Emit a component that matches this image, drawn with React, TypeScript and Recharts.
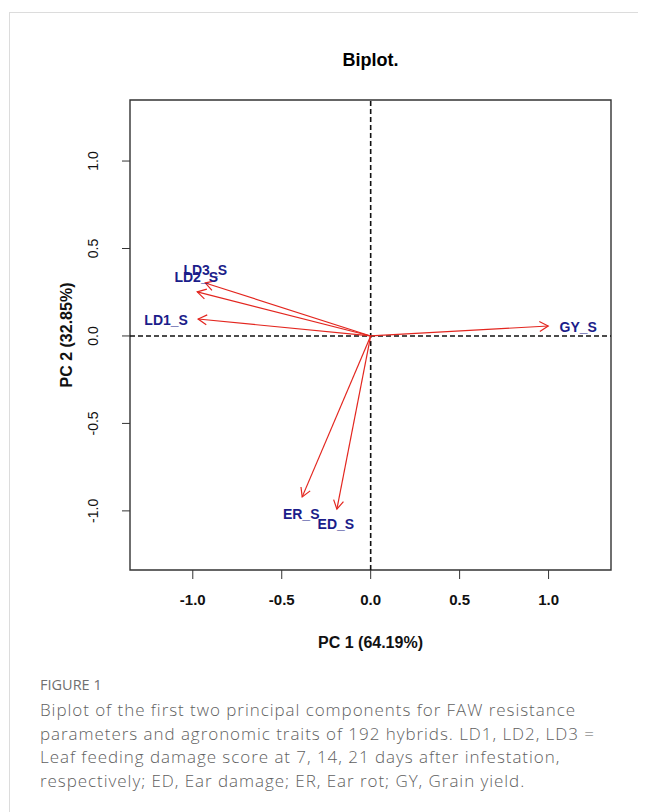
import React from 'react';
import { ScatterChart, Scatter, XAxis, YAxis, ReferenceLine, ReferenceArea } from 'recharts';

// ---- data ----
const traits = ['LD3_S', 'LD2_S', 'LD1_S', 'ER_S', 'ED_S', 'GY_S'];
const pc1Loadings = [-0.93, -0.975, -0.97, -0.385, -0.19, 0.998];
const pc2Loadings = [0.303, 0.252, 0.097, -0.92, -0.99, 0.057];
const xTicks = [-1.0, -0.5, 0.0, 0.5, 1.0];
const yTicks = [-1.0, -0.5, 0.0, 0.5, 1.0];
const xDomain: [number, number] = [-1.353, 1.351];
const yDomain: [number, number] = [-1.338, 1.349];
const titleText = 'Biplot.';
const xLabel = 'PC 1 (64.19%)';
const yLabel = 'PC 2 (32.85%)';
const figureLabel = 'FIGURE 1';
const captionLines = [
  'Biplot of the first two principal components for FAW resistance',
  'parameters and agronomic traits of 192 hybrids. LD1, LD2, LD3 =',
  'Leaf feeding damage score at 7, 14, 21 days after infestation,',
  'respectively; ED, Ear damage; ER, Ear rot; GY, Grain yield.',
];

const points = traits.map((name, i) => ({ name, x: pc1Loadings[i], y: pc2Loadings[i] }));

// ---- styles ----
const ARROW_COLOR = '#e3261f';
const LABEL_COLOR = '#1b1d8a';
const labelOffsets: Record<string, [number, number]> = {
  LD3_S: [0, -13],
  LD2_S: [-1, -15],
  LD1_S: [-32, 1],
  ER_S: [-1, 17],
  ED_S: [-1, 15],
  GY_S: [30, 1],
};

const ArrowShape = (props: any) => {
  const { x1, y1, x2, y2 } = props;
  if ([x1, y1, x2, y2].some((v) => typeof v !== 'number' || isNaN(v))) return null;
  const ang = Math.atan2(y2 - y1, x2 - x1);
  const len = 10;
  const a = Math.PI / 6;
  const hx1 = x2 - len * Math.cos(ang - a);
  const hy1 = y2 - len * Math.sin(ang - a);
  const hx2 = x2 - len * Math.cos(ang + a);
  const hy2 = y2 - len * Math.sin(ang + a);
  return (
    <g>
      <line x1={x1} y1={y1} x2={x2} y2={y2} stroke={ARROW_COLOR} strokeWidth={1.2} />
      <polyline
        points={`${hx1},${hy1} ${x2},${y2} ${hx2},${hy2}`}
        fill="none"
        stroke={ARROW_COLOR}
        strokeWidth={1.2}
      />
    </g>
  );
};

const LabelShape = (props: any) => {
  const { cx, cy, payload } = props;
  const off = labelOffsets[payload.name] || [0, 0];
  return (
    <text
      x={cx + off[0]}
      y={cy + off[1]}
      textAnchor="middle"
      dominantBaseline="central"
      fill={LABEL_COLOR}
      fontFamily="'Liberation Sans', Arial, sans-serif"
      fontWeight="bold"
      fontSize={14}
    >
      {payload.name}
    </text>
  );
};

const YTick = (props: any) => {
  const { x, y, payload } = props;
  const bx = x - 22;
  return (
    <text
      x={bx}
      y={y}
      transform={`rotate(-90, ${bx}, ${y})`}
      textAnchor="middle"
      fill="#111"
      fontFamily="'Liberation Sans', Arial, sans-serif"
      fontSize={14}
    >
      {Number(payload.value).toFixed(1)}
    </text>
  );
};

const XTick = (props: any) => {
  const { x, y, payload } = props;
  return (
    <text
      x={x}
      y={y + 24}
      textAnchor="middle"
      fill="#111"
      fontFamily="'Liberation Sans', Arial, sans-serif"
      fontWeight="bold"
      fontSize={15}
    >
      {Number(payload.value).toFixed(1)}
    </text>
  );
};

export default function App() {
  return (
    <div style={{ position: 'relative', width: 646, height: 812 }}>
      <div
        style={{
          position: 'absolute',
          left: 9 - 8,
          top: 12 - 8,
          width: 637,
          height: 800,
          borderTop: '1px solid #dcdcdc',
          borderLeft: '1px solid #dcdcdc',
          boxSizing: 'border-box',
        }}
      />
      <div style={{ position: 'absolute', left: -8, top: -8 }}>
        <ScatterChart
          width={646}
          height={812}
          margin={{ top: 100, right: 35, bottom: 212, left: 70 }}
        >
          <XAxis
            type="number"
            dataKey="x"
            domain={xDomain}
            ticks={xTicks}
            allowDataOverflow
            axisLine={false}
            tickLine={{ stroke: '#333' }}
            tickSize={9}
            height={30}
            tick={<XTick />}
            label={{
              content: (p: any) => {
                const vb = p.viewBox || {};
                return (
                  <text
                    x={vb.x + vb.width / 2}
                    y={648}
                    textAnchor="middle"
                    fill="#111"
                    fontFamily="'Liberation Sans', Arial, sans-serif"
                    fontWeight="bold"
                    fontSize={16}
                  >
                    {xLabel}
                  </text>
                );
              },
            }}
          />
          <YAxis
            type="number"
            dataKey="y"
            domain={yDomain}
            ticks={yTicks}
            allowDataOverflow
            axisLine={false}
            tickLine={{ stroke: '#333' }}
            tickSize={8}
            width={60}
            tick={<YTick />}
            label={{
              content: (p: any) => {
                const vb = p.viewBox || {};
                const lx = 72;
                const ly = vb.y + vb.height / 2;
                return (
                  <text
                    x={lx}
                    y={ly}
                    transform={`rotate(-90, ${lx}, ${ly})`}
                    textAnchor="middle"
                    fill="#111"
                    fontFamily="'Liberation Sans', Arial, sans-serif"
                    fontWeight="bold"
                    fontSize={16}
                  >
                    {yLabel}
                  </text>
                );
              },
            }}
          />
          <ReferenceArea
            x1={xDomain[0]}
            x2={xDomain[1]}
            y1={yDomain[0]}
            y2={yDomain[1]}
            fill="none"
            fillOpacity={0}
            stroke="#333"
            strokeWidth={1.4}
            ifOverflow="visible"
          />
          <ReferenceLine x={0} stroke="#111" strokeWidth={1.6} strokeDasharray="5 3" />
          <ReferenceLine y={0} stroke="#111" strokeWidth={1.6} strokeDasharray="5 3" />
          {points.map((p) => (
            <ReferenceLine
              key={p.name}
              segment={[
                { x: 0, y: 0 },
                { x: p.x, y: p.y },
              ]}
              shape={<ArrowShape />}
              ifOverflow="visible"
            />
          ))}
          <Scatter data={points} shape={<LabelShape />} isAnimationActive={false} />
        </ScatterChart>
      </div>
      <div
        style={{
          position: 'absolute',
          left: 122,
          top: 50 - 8,
          width: 481,
          textAlign: 'center',
          fontFamily: "'Liberation Sans', Arial, sans-serif",
          fontWeight: 'bold',
          fontSize: 18,
          lineHeight: '20px',
          color: '#000',
        }}
      >
        {titleText}
      </div>
      <div
        style={{
          position: 'absolute',
          left: 40 - 8,
          top: 675 - 8,
          fontFamily: "'Open Sans', sans-serif",
          fontSize: 14.5,
          fontWeight: 500,
          lineHeight: '20px',
          color: '#707070',
        }}
      >
        {figureLabel}
      </div>
      <div
        style={{
          position: 'absolute',
          left: 40 - 8,
          top: 698 - 8,
          fontFamily: "'Open Sans', sans-serif",
          fontSize: 17,
          fontWeight: 300,
          letterSpacing: '0.95px',
          lineHeight: '23.6px',
          color: '#5f5f5f',
          whiteSpace: 'nowrap',
        }}
      >
        {captionLines.map((l, i) => (
          <div key={i}>{l}</div>
        ))}
      </div>
    </div>
  );
}
